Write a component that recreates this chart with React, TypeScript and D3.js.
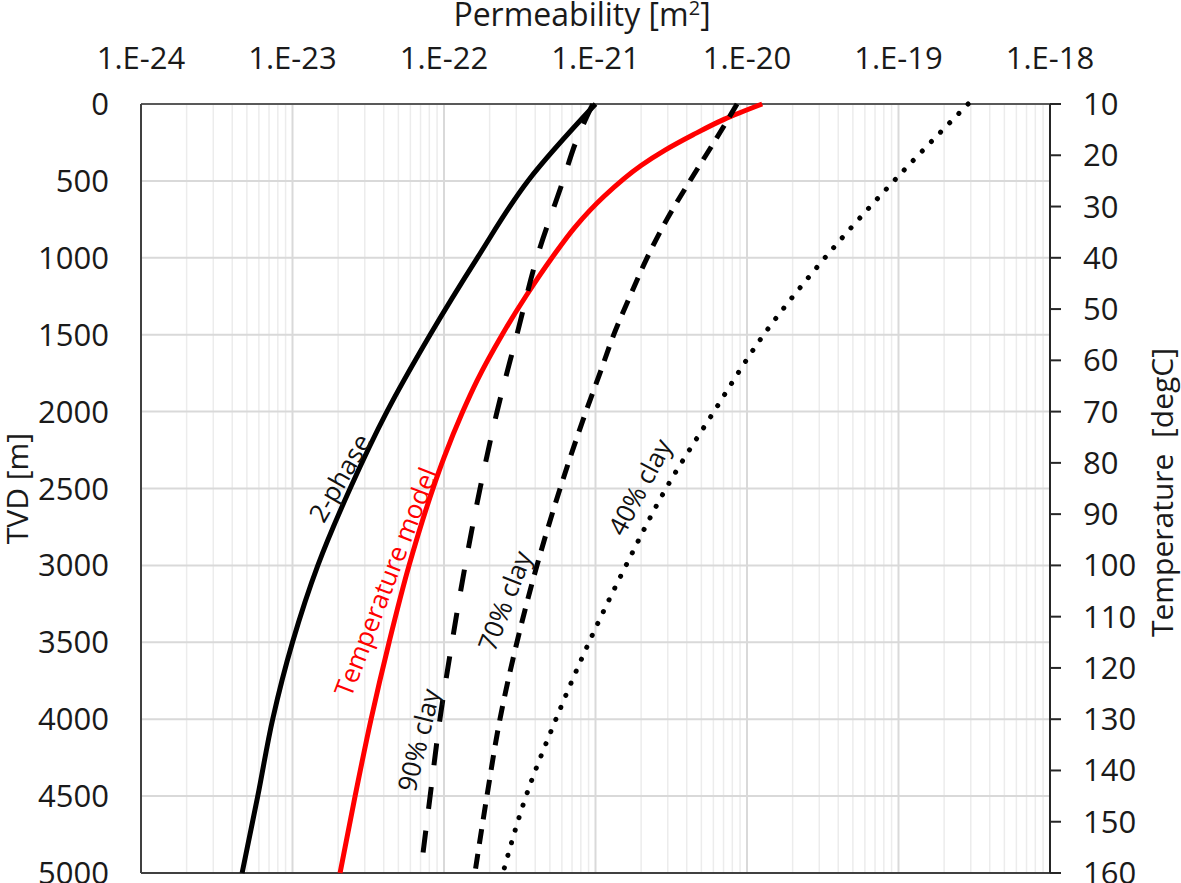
import React from 'react';
import * as d3 from 'd3';

// ---- Data ----
const depthA = [0, 500, 1000, 1500, 2000, 2500, 3000, 3500, 4000, 4500, 5000];
const permTwoPhase = [1.0e-21, 3.58e-22, 1.66e-22, 8.1e-23, 4.2e-23, 2.4e-23, 1.47e-23, 1.0e-23, 7.4e-24, 5.9e-24, 4.65e-24];

const depthTemp = [0, 100, 200, 300, 400, 600, 800, 1000, 1250, 1500, 1800, 2000, 2300, 2500, 3000, 3500, 4000, 4500, 5000];
const permTemp = [1.26e-20, 7.05e-21, 4.41e-21, 2.88e-21, 2.0e-21, 1.14e-21, 7.33e-22, 5.16e-22, 3.47e-22, 2.42e-22, 1.65e-22, 1.33e-22, 1.0e-22, 8.46e-23, 5.88e-23, 4.34e-23, 3.3e-23, 2.59e-23, 2.06e-23];

const depth90 = [0, 250, 500, 1000, 1500, 2000, 2500, 3000, 3500, 4000, 4500, 5000];
const perm90 = [9.6e-22, 7.4e-22, 6.1e-22, 4.1e-22, 3.03e-22, 2.24e-22, 1.73e-22, 1.38e-22, 1.13e-22, 9.4e-23, 8.1e-23, 7.0e-23];

const depth70 = [0, 250, 500, 750, 1000, 1250, 1500, 1750, 2000, 2500, 3000, 3500, 4000, 4500, 5000];
const perm70 = [8.6e-21, 6.05e-21, 4.2e-21, 2.96e-21, 2.19e-21, 1.69e-21, 1.32e-21, 1.07e-21, 8.65e-22, 5.84e-22, 4.11e-22, 3.03e-22, 2.34e-22, 1.92e-22, 1.6e-22];

const depth40 = [0, 500, 1000, 1500, 2000, 2500, 3000, 3500, 4000, 4500, 5000];
const perm40 = [2.88e-19, 9.33e-20, 3.27e-20, 1.29e-20, 6.05e-21, 2.92e-21, 1.59e-21, 9.06e-22, 5.48e-22, 3.48e-22, 2.45e-22];

const permTicks = [1e-24, 1e-23, 1e-22, 1e-21, 1e-20, 1e-19, 1e-18];
const depthTicks = [0, 500, 1000, 1500, 2000, 2500, 3000, 3500, 4000, 4500, 5000];
const tempTicks = [10, 20, 30, 40, 50, 60, 70, 80, 90, 100, 110, 120, 130, 140, 150, 160];

const W = 1181;
const H = 883;
const left = 141, right = 1050, top = 104, bottom = 873;
const FONT = "'Open Sans', 'DejaVu Sans', sans-serif";

export default function App() {
  const x = d3.scaleLog().domain([1e-24, 1e-18]).range([left, right]);
  const y = d3.scaleLinear().domain([0, 5000]).range([top, bottom]);
  const yT = d3.scaleLinear().domain([10, 160]).range([top, bottom]);

  const minor: number[] = [];
  for (let e = -24; e < -18; e++) {
    for (let k = 2; k <= 9; k++) minor.push(k * Math.pow(10, e));
  }

  const mk = (ds: number[], ps: number[]) =>
    d3.line<number>().x((_, i) => x(ps[i])).y((d) => y(d)).curve(d3.curveMonotoneY)(ds) || '';

  const series = [
    { d: mk(depthA, permTwoPhase), stroke: '#000', dash: undefined, cap: 'butt' },
    { d: mk(depthTemp, permTemp), stroke: '#ff0000', dash: undefined, cap: 'butt' },
    { d: mk(depth90, perm90), stroke: '#000', dash: '22 22', cap: 'butt' },
    { d: mk(depth70, perm70), stroke: '#000', dash: '15 10', cap: 'butt' },
    { d: mk(depth40, perm40), stroke: '#000', dash: '0.1 13', cap: 'round' },
  ];

  const labels = [
    { t: '2-phase', x: 340, y: 478, a: -60, c: '#111' },
    { t: 'Temperature model', x: 386, y: 582, a: -69, c: '#ff0000' },
    { t: '90% clay', x: 419, y: 740, a: -76, c: '#111' },
    { t: '70% clay', x: 505, y: 601, a: -69, c: '#111' },
    { t: '40% clay', x: 640, y: 487, a: -62, c: '#111' },
  ];

  const fmt = (v: number) => '1.E' + Math.round(Math.log10(v));
  const TS = 31;

  return (
    <svg width={W} height={H} style={{ position: 'absolute', left: 0, top: 0, background: '#fff' }} fontFamily={FONT}>
      <rect x={0} y={0} width={W} height={H} fill="#fff" />
      {minor.map((v, i) => (
        <line key={'mn' + i} x1={x(v)} x2={x(v)} y1={top} y2={bottom} stroke="#ececec" strokeWidth={1.5} />
      ))}
      {permTicks.map((v, i) => (
        <line key={'mj' + i} x1={x(v)} x2={x(v)} y1={top} y2={bottom} stroke="#d9d9d9" strokeWidth={2} />
      ))}
      {depthTicks.map((v, i) => (
        <line key={'hg' + i} x1={left} x2={right} y1={y(v)} y2={y(v)} stroke="#d9d9d9" strokeWidth={2} />
      ))}
      <line x1={left} x2={right} y1={top} y2={top} stroke="#595959" strokeWidth={2} />
      <line x1={left} x2={right} y1={bottom} y2={bottom} stroke="#404040" strokeWidth={2} />
      <line x1={left} x2={left} y1={top} y2={bottom} stroke="#404040" strokeWidth={2} />
      <line x1={right} x2={right} y1={top} y2={bottom} stroke="#262626" strokeWidth={2} />
      {tempTicks.map((v, i) => (
        <line key={'rt' + i} x1={right} x2={right + 11} y1={yT(v)} y2={yT(v)} stroke="#262626" strokeWidth={2} />
      ))}

      {series.map((s, i) => (
        <path key={'s' + i} d={s.d} fill="none" stroke={s.stroke} strokeWidth={5} strokeDasharray={s.dash}
          strokeLinecap={s.cap as any} strokeLinejoin="round" />
      ))}

      {permTicks.map((v, i) => (
        <text key={'tl' + i} x={x(v)} y={69} textAnchor="middle" fontSize={TS} fill="#1a1a1a">{fmt(v)}</text>
      ))}
      {depthTicks.map((v, i) => (
        <text key={'ll' + i} x={109} y={y(v) + 11} textAnchor="end" fontSize={TS} fill="#1a1a1a">{v}</text>
      ))}
      {tempTicks.map((v, i) => (
        <text key={'rl' + i} x={1083} y={yT(v) + 11} textAnchor="start" fontSize={TS} fill="#1a1a1a">{v}</text>
      ))}

      <text x={582} y={26} textAnchor="middle" fontSize={32} fill="#1a1a1a">
        Permeability [m<tspan dy={-11} fontSize={20}>2</tspan><tspan dy={11}>]</tspan>
      </text>
      <text transform={`translate(28,${(top + bottom) / 2}) rotate(-90)`} textAnchor="middle" fontSize={30} fill="#1a1a1a">TVD [m]</text>
      <text transform={`translate(1173,${(top + bottom) / 2 + 4}) rotate(-90)`} textAnchor="middle" fontSize={30}
        fill="#1a1a1a" style={{ whiteSpace: 'pre' }}>{'Temperature  [degC]'}</text>

      {labels.map((l, i) => (
        <text key={'cl' + i} transform={`translate(${l.x},${l.y}) rotate(${l.a})`} textAnchor="middle" dy="0.35em"
          fontSize={26} fill={l.c}>{l.t}</text>
      ))}
    </svg>
  );
}
